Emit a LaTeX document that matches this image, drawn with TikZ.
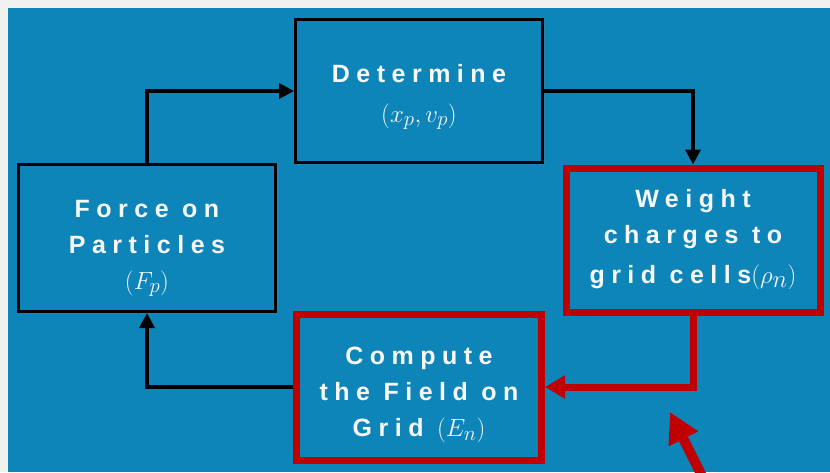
\documentclass[tikz,border=0pt]{standalone}
\usepackage{amssymb, amsmath}
\usepackage{fontspec}
\usepackage{tikz}
\usetikzlibrary{arrows.meta, shadows}
\setmainfont{Liberation Sans}
\newfontfamily\boxfont{Liberation Sans}[LetterSpace=26]
\definecolor{backgray}{RGB}{241, 241, 241}
\definecolor{slideblue}{RGB}{14, 133, 185}
\definecolor{darkred}{RGB}{192, 0, 0}
\definecolor{offwhite}{RGB}{248, 248, 248}
\newcommand{\boxmath}[2][30]{{\fontsize{#1}{36}\selectfont$#2$}}
\newcommand{\topgap}[1]{\rule{0pt}{#1}}

\tikzset{
  blockbox/.style={draw=black, line width=3pt, fill=slideblue, inner sep=0pt,
    align=center, text=offwhite, font=\boxfont\bfseries\fontsize{25}{36}\selectfont,
    drop shadow={opacity=0.25, shadow xshift=2pt, shadow yshift=-2pt}},
  redbox/.style={blockbox, draw=darkred, line width=7pt},
  flow/.style={draw=black, line width=3.5pt, -{Triangle[length=15pt, width=15pt]}},
  redflow/.style={draw=darkred, line width=7pt, -{Triangle[length=20pt, width=22pt]}}
}

\begin{document}
\begin{tikzpicture}[x=1pt, y=-1pt]
  \useasboundingbox (0, 0) rectangle (830, 472);
  \clip (0, 0) rectangle (830, 472);
  \fill[backgray] (0, 0) rectangle (830, 472);
  \fill[slideblue] (8, 8) rectangle (830, 472);

  % boxes
  \node[blockbox, minimum width=247pt, minimum height=143pt] (det) at (419, 91)
    {\topgap{30pt}Determine\\[4pt]\boxmath[32]{(x_p, v_p)}};
  \node[blockbox, minimum width=257pt, minimum height=147pt] (force) at (147, 238)
    {\topgap{38pt}Force on\\Particles\\\boxmath{(F_p)}};
  \node[redbox, minimum width=254pt, minimum height=144pt] (weight) at (693, 240)
    {Weight\\charges to\\[4pt]grid cells\boxmath[34]{(\rho_n)}};
  \node[redbox, minimum width=245pt, minimum height=146pt] (comp) at (419, 387)
    {\topgap{33pt}Compute\\the Field on\\Grid \boxmath{(E_n)}};

  % loop
  \draw[flow] (force.north) |- (det.west);
  \draw[flow] (det.east) -| (weight.north);
  \draw[redflow] (weight.south) |- (comp.east);
  \draw[flow] (comp.west) -| (force.south);

  % pointer
  \coordinate (foot) at (706, 484);
  \coordinate (tip) at (670, 412);
  \draw[darkred, line width=10pt, -{Triangle[length=30pt, width=31pt]}] (foot) -- (tip);
\end{tikzpicture}
\end{document}
